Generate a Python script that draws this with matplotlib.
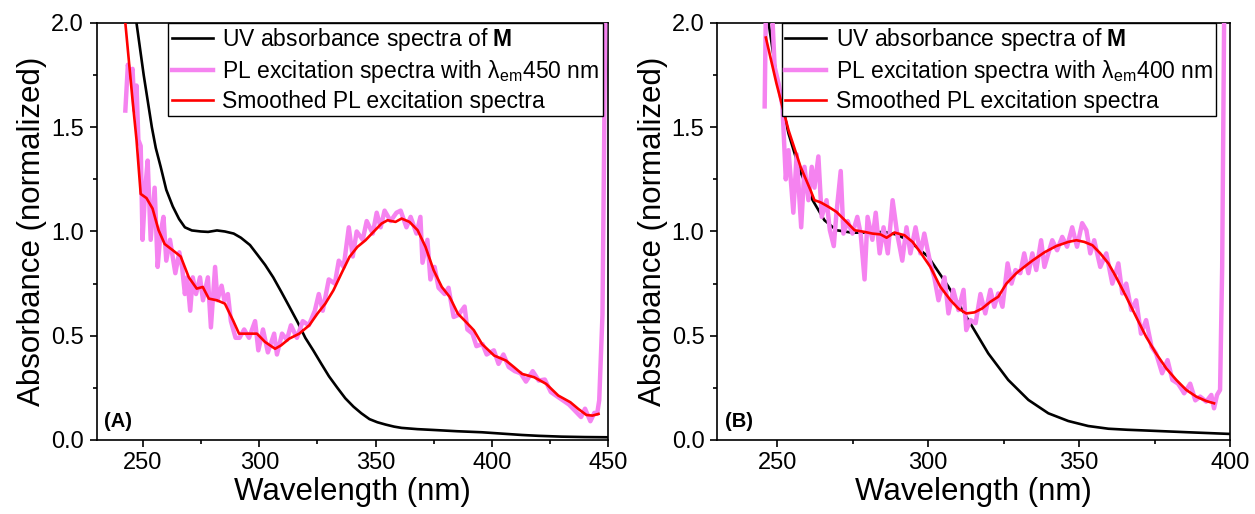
import matplotlib
matplotlib.use("Agg")
import matplotlib.pyplot as plt
from matplotlib.ticker import MultipleLocator

plt.rcParams['font.family'] = ['Liberation Sans', 'DejaVu Sans']
plt.rcParams['mathtext.fontset'] = 'custom'
plt.rcParams['mathtext.rm'] = 'Liberation Sans'
plt.rcParams['mathtext.it'] = 'Liberation Sans:italic'
plt.rcParams['mathtext.bf'] = 'Liberation Sans:bold'

# ---------------- Panel A data ----------------
uvA_x = [245.5, 247.2, 250.3, 253.8, 255.5, 257.6, 260.0, 262.8, 265.5, 268.0, 271.0, 274.9, 278.0,
         281.8, 285.2, 289.0, 292.1, 296.0, 299.1, 302.5, 306.0, 309.5, 312.9, 316.5, 319.8, 323.2,
         326.7, 330.0, 333.6, 337.0, 340.5, 343.9, 347.4, 350.8, 354.3, 358.0, 361.2, 368.0, 375.0,
         385.0, 395.8, 405.0, 413.0, 420.0, 430.0, 440.0, 450.0]
uvA_y = [2.15, 2.00, 1.75, 1.50, 1.40, 1.31, 1.20, 1.12, 1.06, 1.02, 1.005, 1.00, 0.998,
         1.005, 1.00, 0.99, 0.97, 0.935, 0.89, 0.84, 0.78, 0.71, 0.64, 0.565, 0.49, 0.43,
         0.365, 0.305, 0.25, 0.20, 0.16, 0.128, 0.10, 0.085, 0.074, 0.064, 0.058, 0.052, 0.048,
         0.042, 0.037, 0.030, 0.024, 0.020, 0.016, 0.014, 0.013]

plA_x = [242.4, 243.5, 244.3, 245.5, 246.3, 247.2, 248.0, 249.0, 249.8, 251.0, 252.0, 253.3, 255.0,
         256.3, 257.5, 258.8, 260.0, 261.6, 263.9, 265.6, 266.8, 268.0, 269.0, 270.3, 271.4, 272.8,
         274.5, 275.8, 277.9, 279.2, 281.0, 282.0, 283.8, 285.0, 286.5, 287.8, 289.8, 291.5, 293.5,
         295.6, 298.2, 299.6, 301.6, 303.7, 306.4, 307.6, 309.8, 311.9, 313.6, 316.2, 318.7, 321.3,
         323.9, 325.6, 327.3, 329.9, 332.5, 334.2, 336.3, 338.5, 340.2, 341.9, 344.5, 346.2, 348.8,
         350.5, 352.2, 353.9, 356.5, 359.0, 360.8, 363.3, 365.1, 367.6, 369.3, 370.2, 372.3, 373.6,
         375.4, 377.1, 379.7, 381.4, 383.6, 385.7, 388.3, 389.5, 391.7, 393.4, 396.0, 397.8, 400.9,
         402.9, 405.0, 407.3, 409.9, 412.4, 414.7, 417.6, 420.2, 422.8, 425.4, 428.0, 430.6, 433.2,
         435.8, 438.4, 440.1, 442.4, 444.1, 445.3, 446.2, 447.6, 448.3, 449.0]
plA_y = [1.58, 1.80, 1.74, 1.78, 1.58, 1.70, 1.44, 1.41, 0.96, 1.21, 1.34, 0.96, 1.21,
         0.83, 0.99, 1.07, 0.86, 0.96, 0.80, 0.90, 0.83, 0.70, 0.78, 0.62, 0.78, 0.70,
         0.78, 0.67, 0.78, 0.54, 0.83, 0.67, 0.74, 0.67, 0.70, 0.57, 0.49, 0.49, 0.53,
         0.49, 0.57, 0.43, 0.53, 0.42, 0.51, 0.41, 0.51, 0.48, 0.55, 0.49, 0.57, 0.55,
         0.62, 0.70, 0.62, 0.77, 0.75, 0.86, 0.83, 1.02, 0.88, 1.00, 0.96, 1.05, 0.99,
         1.09, 1.02, 1.10, 1.05, 1.09, 1.10, 1.02, 1.07, 0.99, 1.07, 0.85, 0.96, 0.77,
         0.83, 0.73, 0.70, 0.73, 0.59, 0.60, 0.64, 0.53, 0.51, 0.45, 0.46, 0.41, 0.43,
         0.365, 0.41, 0.35, 0.33, 0.32, 0.28, 0.33, 0.285, 0.29, 0.23, 0.21, 0.19, 0.17,
         0.14, 0.11, 0.15, 0.09, 0.13, 0.125, 0.19, 0.60, 1.40, 2.30]

smA_x = [242.4, 245.5, 247.2, 249.0, 251.5, 254.1, 256.7, 259.3, 262.8, 266.2, 269.7, 273.1, 275.7,
         278.3, 281.8, 285.2, 288.7, 291.3, 295.6, 299.0, 302.5, 306.8, 309.4, 312.9, 317.2, 321.5,
         325.0, 328.4, 331.9, 335.3, 338.8, 342.2, 345.7, 349.1, 352.6, 355.2, 358.6, 361.2, 364.6,
         368.1, 371.5, 375.0, 378.5, 381.9, 385.4, 388.9, 392.3, 395.8, 401.0, 406.1, 409.6, 413.0,
         418.2, 423.4, 428.6, 433.8, 437.2, 440.7, 443.3, 445.9]
smA_y = [2.00, 1.63, 1.44, 1.18, 1.16, 1.11, 1.006, 0.94, 0.91, 0.88, 0.78, 0.726, 0.734,
         0.678, 0.67, 0.654, 0.574, 0.51, 0.51, 0.51, 0.47, 0.4375, 0.454, 0.486, 0.51, 0.55,
         0.606, 0.654, 0.718, 0.798, 0.878, 0.926, 0.958, 0.998, 1.038, 1.054, 1.046, 1.062, 1.046,
         1.006, 0.926, 0.814, 0.734, 0.686, 0.606, 0.566, 0.526, 0.46, 0.405, 0.381, 0.349, 0.317,
         0.301, 0.269, 0.213, 0.181, 0.149, 0.12, 0.117, 0.125]

# ---------------- Panel B data ----------------
uvB_x = [245.5, 247.1, 250.0, 253.7, 257.5, 261.7, 265.6, 269.6, 274.9, 280.0, 285.5, 289.5, 293.4,
         300.0, 306.7, 313.3, 319.9, 326.5, 333.2, 339.8, 346.4, 353.0, 359.7, 366.0, 372.9, 386.1,
         400.0]
uvB_y = [2.15, 2.00, 1.72, 1.47, 1.29, 1.15, 1.054, 1.006, 0.994, 0.995, 0.998, 0.985, 0.958,
         0.879, 0.735, 0.575, 0.415, 0.288, 0.192, 0.128, 0.091, 0.067, 0.054, 0.049, 0.045, 0.037,
         0.029]

plB_x = [245.8, 246.4, 247.5, 249.1, 250.4, 251.7, 252.8, 253.7, 255.3, 256.4, 257.9, 259.0, 260.3,
         261.4, 262.3, 263.6, 264.7, 266.3, 267.4, 268.7, 269.6, 271.0, 271.9, 273.3, 274.9, 276.5,
         277.6, 278.9, 279.9, 281.5, 282.6, 283.9, 285.2, 286.6, 288.2, 289.7, 291.4, 292.8, 294.1,
         295.8, 297.4, 298.7, 300.7, 302.0, 303.4, 305.4, 306.7, 308.3, 310.0, 311.7, 312.6, 314.0,
         315.7, 317.3, 318.9, 320.6, 321.9, 323.2, 324.6, 326.3, 327.6, 328.9, 330.5, 331.8, 333.2,
         334.5, 335.8, 337.4, 338.5, 339.8, 341.1, 342.7, 344.4, 346.0, 347.7, 349.3, 351.0, 352.4,
         353.7, 355.0, 357.0, 359.0, 361.0, 363.0, 364.3, 365.6, 367.3, 368.9, 370.5, 372.2, 374.0,
         375.5, 377.5, 379.3, 380.9, 382.8, 384.8, 386.8, 388.5, 390.1, 392.1, 393.8, 394.7, 395.7,
         396.7, 397.4, 398.2]
plB_y = [1.60, 2.30, 2.30, 1.79, 1.71, 1.60, 1.25, 1.39, 1.09, 1.37, 1.02, 1.31, 1.15,
         1.31, 1.21, 1.36, 1.07, 1.15, 1.006, 0.93, 1.09, 1.29, 0.99, 1.05, 0.99, 1.07,
         0.99, 0.77, 1.07, 0.96, 1.09, 0.895, 1.02, 0.895, 1.15, 0.99, 0.86, 1.02, 0.895,
         1.02, 0.895, 0.99, 0.847, 0.78, 0.67, 0.78, 0.607, 0.72, 0.623, 0.72, 0.527, 0.575,
         0.56, 0.70, 0.607, 0.72, 0.639, 0.703, 0.639, 0.847, 0.75, 0.815, 0.80, 0.895, 0.80,
         0.895, 0.815, 0.958, 0.83, 0.895, 0.958, 0.91, 0.974, 0.927, 1.02, 0.927, 1.04, 1.006,
         0.895, 0.958, 0.83, 0.895, 0.75, 0.847, 0.703, 0.75, 0.623, 0.67, 0.51, 0.575, 0.447,
         0.415, 0.32, 0.383, 0.288, 0.27, 0.224, 0.27, 0.19, 0.208, 0.184, 0.216, 0.152, 0.216,
         0.24, 0.83, 2.30]

smB_x = [246.2, 249.7, 253.7, 257.7, 261.0, 262.3, 264.3, 267.0, 269.6, 272.9, 275.6, 278.9, 281.5,
         284.2, 286.2, 288.8, 292.1, 294.8, 297.4, 300.7, 304.0, 307.4, 310.0, 312.6, 315.3, 317.9,
         320.6, 323.2, 325.9, 329.2, 331.8, 334.5, 338.5, 342.4, 346.4, 349.1, 351.7, 354.4, 357.0,
         359.7, 362.3, 365.6, 368.9, 372.2, 375.5, 378.9, 382.2, 385.5, 388.8, 392.1, 394.7]
smB_y = [1.93, 1.71, 1.486, 1.31, 1.198, 1.15, 1.14, 1.118, 1.094, 1.046, 1.006, 0.998, 0.99,
         0.986, 0.97, 0.995, 0.982, 0.95, 0.90, 0.83, 0.735, 0.67, 0.63, 0.607, 0.612, 0.631,
         0.663, 0.687, 0.75, 0.80, 0.83, 0.86, 0.90, 0.93, 0.95, 0.958, 0.95, 0.934, 0.895,
         0.847, 0.78, 0.687, 0.59, 0.495, 0.415, 0.343, 0.288, 0.24, 0.208, 0.187, 0.176]

x_ticks_A = [250, 300, 350, 400, 450]
x_ticks_B = [250, 300, 350, 400]
y_ticks = [0.0, 0.5, 1.0, 1.5, 2.0]

PINK = '#F583F0'
RED = '#FF0000'

fig = plt.figure(figsize=(12.55, 5.14), dpi=100)
axA = fig.add_axes([0.0769, 0.144, 0.4076, 0.8113])
axB = fig.add_axes([0.5713, 0.144, 0.4088, 0.8113])

panels = [
    (axA, uvA_x, uvA_y, plA_x, plA_y, smA_x, smA_y, (230, 450), x_ticks_A, '450', '(A)', 0.990),
    (axB, uvB_x, uvB_y, plB_x, plB_y, smB_x, smB_y, (230, 400), x_ticks_B, '400', '(B)', 0.973),
]

for ax, ux, uy, px, py, sx, sy, xlim, xt, em, tag, legx in panels:
    ax.plot(ux, uy, color='black', lw=1.9, label=r'UV absorbance spectra of $\mathbf{M}$', zorder=2)
    ax.plot(px, py, color=PINK, lw=3.2, label=r'PL excitation spectra with $\mathrm{\lambda_{em}}$' + em + ' nm',
            zorder=3, solid_joinstyle='round')
    ax.plot(sx, sy, color=RED, lw=1.9, label='Smoothed PL excitation spectra', zorder=4)
    ax.set_xlim(*xlim)
    ax.set_ylim(0, 2.0)
    ax.set_xticks(xt)
    ax.set_yticks(y_ticks)
    ax.set_yticklabels([f'{v:.1f}' for v in y_ticks])
    ax.xaxis.set_minor_locator(MultipleLocator(25))
    ax.yaxis.set_minor_locator(MultipleLocator(0.25))
    ax.tick_params(which='both', direction='out', top=False, right=False, width=1.2, labelsize=17)
    ax.tick_params(which='major', length=5, pad=4)
    ax.tick_params(which='minor', length=3)
    for sp in ax.spines.values():
        sp.set_linewidth(1.2)
    ax.set_xlabel('Wavelength (nm)', fontsize=22.5, labelpad=2)
    ax.set_ylabel('Absorbance (normalized)', fontsize=22.5, labelpad=3)
    ax.text(0.015, 0.022, tag, transform=ax.transAxes, fontsize=14.5, fontweight='bold',
            ha='left', va='bottom')
    leg = ax.legend(loc='upper right', bbox_to_anchor=(legx, 1.0), borderaxespad=0,
                    fontsize=16.5, frameon=True, fancybox=False, framealpha=1,
                    edgecolor='black', handlelength=1.8, handletextpad=0.4,
                    borderpad=0.15, labelspacing=0.2)
    leg.get_frame().set_linewidth(1.0)

fig.savefig('out.png', dpi=100)
